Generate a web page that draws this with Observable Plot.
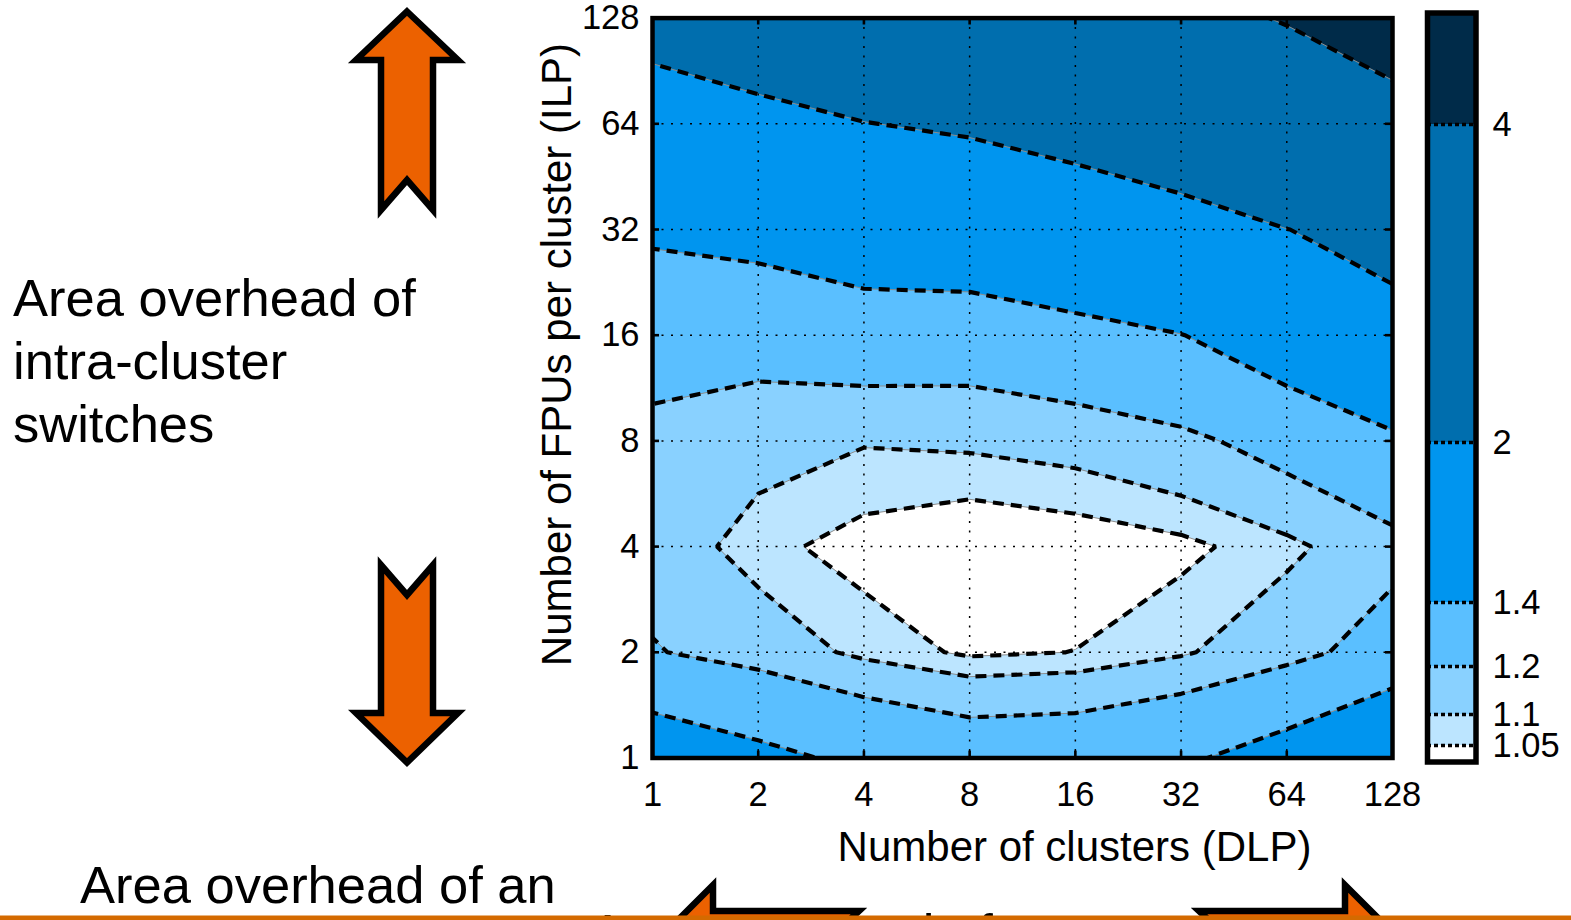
<!DOCTYPE html>
<html>
<head>
<meta charset="utf-8">
<script src="https://cdn.jsdelivr.net/npm/d3@7"></script>
<script src="https://cdn.jsdelivr.net/npm/@observablehq/plot@0.6"></script>
<style>
  html, body { margin: 0; padding: 0; overflow: hidden; background: #fff; }
  #root { position: relative; width: 1571px; height: 920px; overflow: hidden; background: #fff;
          font-family: "Liberation Sans", Arial, Helvetica, sans-serif; }
  #main, #cbar, #overlay { position: absolute; top: 0; }
  #main { left: 0; }
  #cbar { left: 1400px; }
  #overlay { left: 0; pointer-events: none; }
</style>
</head>
<body>
<div id="root">
  <div id="main"></div>
  <div id="cbar"></div>
  <svg id="overlay" width="1571" height="920" viewBox="0 0 1571 920">
    <g font-family="Liberation Sans, Arial, Helvetica, sans-serif" font-size="52.5" fill="#000">
      <text x="13" y="316">Area overhead of</text>
      <text x="13" y="379">intra-cluster</text>
      <text x="13" y="442">switches</text>
      <text x="80" y="903">Area overhead of an</text>
      <text x="590" y="951">Area overhead of</text>
    </g>
    <g fill="#ec6100" stroke="#000" stroke-width="6.5" stroke-linejoin="miter" stroke-miterlimit="10">
      <path d="M407,11.5 L458,60 L433,60 L433,210 L407,180 L381,210 L381,60 L356,60 Z"/>
      <path d="M381,565 L407,595 L433,565 L433,713 L458,713 L407,762.5 L356,713 L381,713 Z"/>
      <path d="M660,938 L713,885 L713,911 L859,911 L830,938 L859,965 L713,965 L713,991 Z"/>
      <path d="M1398,938 L1345,885 L1345,911 L1199,911 L1228,938 L1199,965 L1345,965 L1345,991 Z"/>
    </g>
    <rect x="0" y="915.5" width="1571" height="4.5" fill="#d46a00"/>
  </svg>
</div>
<script>
// ---- data ----
const clusters = [1, 2, 4, 8, 16, 32, 64, 128];          // x: Number of clusters (DLP)
const fpusPerCluster = [1, 2, 4, 8, 16, 32, 64, 128];    // y: Number of FPUs per cluster (ILP)
// area overhead, one row per FPUs-per-cluster value (1 at bottom -> 128 at top),
// one column per cluster count
const overheadFpu1   = [1.545, 1.45, 1.36, 1.30, 1.31, 1.37, 1.49, 1.674];
const overheadFpu2   = [1.208, 1.151, 1.082, 1.04, 1.051, 1.09, 1.16, 1.259];
const overheadFpu4   = [1.15, 1.068, 1.026, 0.999, 1.014, 1.035, 1.081, 1.1625];
const overheadFpu8   = [1.17, 1.132, 1.105, 1.113, 1.13, 1.17, 1.253, 1.35];
const overheadFpu16  = [1.256, 1.253, 1.288, 1.28, 1.33, 1.395, 1.536, 1.85];
const overheadFpu32  = [1.432, 1.469, 1.543, 1.573, 1.663, 1.8, 1.995, 2.16];
const overheadFpu64  = [1.749, 1.864, 1.99, 2.064, 2.207, 2.39, 2.8, 3.3];
const overheadFpu128 = [2.19, 2.35, 2.5, 2.75, 3.0, 3.56, 4.09, 5.0];
const overheadRows = [overheadFpu1, overheadFpu2, overheadFpu4, overheadFpu8,
                      overheadFpu16, overheadFpu32, overheadFpu64, overheadFpu128];
const contourLevels = [1.05, 1.1, 1.2, 1.4, 2, 4];
const colorbarLimits = [1, 5];
const colorbarTickLabels = ["1.05", "1.1", "1.2", "1.4", "2", "4"];
const xLabel = "Number of clusters (DLP)";
const yLabel = "Number of FPUs per cluster (ILP)";

// ---- styles ----
const FONT = "Liberation Sans, Arial, Helvetica, sans-serif";
const bandColors = ["#ffffff", "#bce5ff", "#89d1ff", "#5abfff", "#0095ef", "#006eae", "#002b49"];
const colorDomain = [colorbarLimits[0], ...contourLevels];
const colorScale = {type: "ordinal", domain: colorDomain, range: bandColors};

// both axes are powers of two: position by log2 on a linear scale
const xPos = clusters.map(Math.log2);
const yPos = fpusPerCluster.map(Math.log2);
const values = overheadRows.flat();
const grid = {
  width: clusters.length, height: fpusPerCluster.length,
  x1: xPos[0] - 0.5, x2: xPos[xPos.length - 1] + 0.5,
  y1: yPos[0] - 0.5, y2: yPos[yPos.length - 1] + 0.5,
  thresholds: contourLevels, clip: true
};
const pow2Label = d => String(clusters[xPos.indexOf(d)] ?? 2 ** d);
const pow2LabelY = d => String(fpusPerCluster[yPos.indexOf(d)] ?? 2 ** d);

const main = Plot.plot({
  width: 1420, height: 880,
  marginLeft: 652, marginRight: 28, marginTop: 17.6, marginBottom: 122.5,
  style: {fontFamily: FONT, color: "black", background: "transparent", overflow: "visible"},
  x: {type: "linear", domain: [xPos[0], xPos[xPos.length - 1]]},
  y: {type: "linear", domain: [yPos[0], yPos[yPos.length - 1]]},
  color: colorScale,
  marks: [
    Plot.contour(values, {...grid, fill: Plot.identity}),
    Plot.contour(values, {...grid, value: Plot.identity, fill: "none", stroke: "#8c8c8c", strokeWidth: 1}),
    Plot.gridX(xPos, {stroke: "black", strokeOpacity: 1, strokeWidth: 1.5, strokeDasharray: "2,7.5"}),
    Plot.gridY(yPos, {stroke: "black", strokeOpacity: 1, strokeWidth: 1.5, strokeDasharray: "2,7.5"}),
    Plot.contour(values, {...grid, value: Plot.identity, fill: "none", stroke: "black",
                          strokeWidth: 4.2, strokeDasharray: "11,7"}),
    Plot.tickX(xPos, {x: d => d, stroke: "black", strokeWidth: 2.6, insetTop: 733}),
    Plot.tickX(xPos, {x: d => d, stroke: "black", strokeWidth: 2.6, insetBottom: 733}),
    Plot.tickY(yPos, {y: d => d, stroke: "black", strokeWidth: 2.6, insetRight: 733}),
    Plot.tickY(yPos, {y: d => d, stroke: "black", strokeWidth: 2.6, insetLeft: 733}),
    Plot.axisX(xPos, {tickSize: 0, tickPadding: 23, fontSize: 34.5, tickFormat: pow2Label, label: null}),
    Plot.axisY(yPos, {tickSize: 0, tickPadding: 13, fontSize: 34.5, tickFormat: pow2LabelY, label: null}),
    Plot.text([xLabel], {text: d => d, frameAnchor: "bottom", dx: 52, dy: 102.5, lineAnchor: "bottom",
                         textAnchor: "middle", fontSize: 42}),
    Plot.text([yLabel], {text: d => d, frameAnchor: "left", rotate: -90, dx: -94.5, dy: -33.5,
                         lineAnchor: "middle", textAnchor: "middle", fontSize: 42}),
    Plot.frame({stroke: "black", strokeWidth: 4.5})
  ]
});
document.getElementById("main").appendChild(main);

// ---- colorbar ----
const bandLows = [colorbarLimits[0], ...contourLevels];
const bandHighs = [...contourLevels, colorbarLimits[1]];
const bands = bandLows.map((lo, i) => ({lo, hi: bandHighs[i]}));

const cbar = Plot.plot({
  width: 171, height: 780,
  marginLeft: 27, marginRight: 95.5, marginTop: 12.5, marginBottom: 18.5,
  style: {fontFamily: FONT, color: "black", background: "transparent", overflow: "visible"},
  x: {axis: null},
  y: {type: "linear", domain: [colorbarLimits[0], ...contourLevels, colorbarLimits[1]],
      range: [761.5, 745, 714, 666, 602, 442, 124, 12.5], axis: null},
  color: colorScale,
  marks: [
    Plot.rectY(bands, {y1: "lo", y2: "hi", fill: "lo"}),
    Plot.ruleY(contourLevels, {stroke: "black", strokeWidth: 3.5, strokeDasharray: "4,3"}),
    Plot.axisY(contourLevels, {anchor: "right", tickSize: 0, tickPadding: 16.5, fontSize: 34.5,
                               tickFormat: d => colorbarTickLabels[contourLevels.indexOf(d)], label: null}),
    Plot.frame({stroke: "black", strokeWidth: 5.5})
  ]
});
document.getElementById("cbar").appendChild(cbar);
</script>
</body>
</html>
